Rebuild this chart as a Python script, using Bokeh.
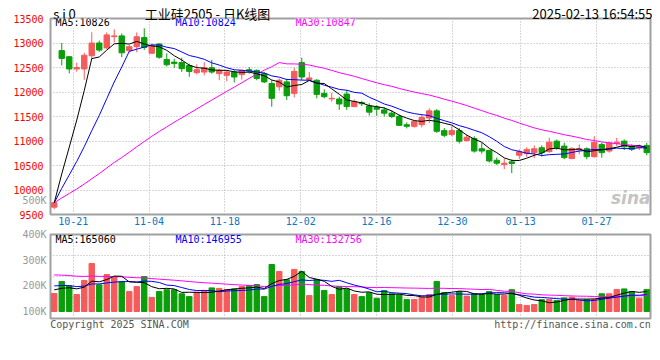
from bokeh.plotting import figure
from bokeh.layouts import column
from bokeh.models import Range1d, FixedTicker, Label, ColumnDataSource, LinearAxis
from bokeh.embed import file_html
from bokeh.resources import INLINE

# ---------------- data ----------------
tick_index = [3, 13, 23, 33, 43, 53, 62, 72]
tick_labels = ["10-21", "11-04", "11-18", "12-02", "12-16", "12-30", "01-13", "01-27"]

open_ = [9650, 12845, 12720, 12470, 12470, 12740, 13000, 12900, 13130, 13145,
         12845, 12925, 13110, 12790, 12980, 12663, 12610, 12600, 12540, 12395,
         12407, 12496, 12375, 12341, 12407, 12355, 12455, 12442, 12375, 12173,
         12105, 12206, 11972, 12600, 12254, 12240, 11972, 11860, 11857, 11958,
         11702, 11783, 11716, 11689, 11635, 11568, 11500, 11332, 11299, 11332,
         11468, 11615, 11212, 11131, 11212, 11010, 11050, 10842, 10809, 10607,
         10520, 10574, 10708, 10742, 10762, 10862, 10782, 10997, 10896, 10641,
         10815, 10842, 10681, 10930, 10795, 10950, 10997, 10896, 10862, 10910]
close_ = [9740, 12685, 12470, 12500, 12750, 13000, 12855, 13165, 13145, 12800,
          12925, 13127, 12910, 12946, 12710, 12556, 12580, 12476, 12420, 12455,
          12496, 12407, 12442, 12407, 12306, 12442, 12430, 12275, 12206, 11871,
          12240, 11924, 12421, 12306, 12287, 11952, 11904, 11871, 11756, 11702,
          11803, 11760, 11589, 11650, 11568, 11500, 11319, 11300, 11400, 11480,
          11615, 11198, 11117, 11212, 10996, 11077, 10795, 10795, 10593, 10547,
          10547, 10540, 10782, 10829, 10842, 10762, 10977, 10862, 10661, 10850,
          10842, 10681, 10977, 10762, 10964, 10977, 10883, 10830, 10883, 10762]
high_ = [9760, 13000, 12730, 12600, 12800, 13220, 13050, 13215, 13280, 13195,
         12960, 13215, 13300, 12990, 12990, 12790, 12680, 12700, 12580, 12563,
         12610, 12657, 12476, 12450, 12442, 12455, 12510, 12460, 12410, 12240,
         12275, 12274, 12496, 12700, 12408, 12260, 12053, 11986, 11904, 12039,
         11850, 11820, 11770, 11730, 11690, 11620, 11540, 11380, 11420, 11534,
         11668, 11650, 11266, 11299, 11266, 11130, 11097, 10964, 10820, 10662,
         10641, 10627, 10829, 10870, 10910, 10910, 11065, 11030, 10964, 10870,
         10930, 10870, 11097, 10964, 10977, 11065, 11030, 10930, 10930, 10964]
low_ = [9610, 12540, 12380, 12415, 12250, 12680, 12820, 12880, 13010, 12710,
        12810, 12810, 12860, 12780, 12680, 12520, 12490, 12410, 12310, 12360,
        12340, 12374, 12240, 12220, 12194, 12254, 12375, 12240, 12180, 11700,
        12025, 11837, 11890, 12240, 12250, 11870, 11870, 11803, 11635, 11635,
        11690, 11715, 11520, 11514, 11500, 11467, 11310, 11258, 11272, 11278,
        11366, 11165, 11077, 11097, 10950, 10985, 10762, 10742, 10560, 10506,
        10426, 10345, 10627, 10675, 10650, 10680, 10762, 10820, 10627, 10630,
        10728, 10627, 10661, 10661, 10762, 10896, 10815, 10795, 10815, 10708]
volume_k = [170, 217, 200, 166, 221, 287, 204, 244, 234, 217,
            178, 197, 236, 155, 178, 185, 185, 169, 158, 175,
            182, 192, 190, 185, 188, 197, 201, 205, 158, 283,
            256, 224, 264, 256, 162, 224, 182, 166, 197, 188,
            166, 158, 173, 151, 182, 169, 165, 147, 147, 156,
            166, 217, 174, 162, 178, 160, 169, 165, 178, 165,
            162, 185, 127, 123, 127, 146, 147, 143, 153, 156,
            143, 146, 147, 169, 169, 186, 188, 178, 152, 186]
# average volume before the first shown day, per MA window
vol_prior_k = {5: 188, 10: 203, 30: 245}

price_ticks = [9500, 10000, 10500, 11000, 11500, 12000, 12500, 13000, 13500]
vol_ticks_k = [100, 200, 300, 400]

title_code = "s i 0"
title_name = "工业硅2505 - 日K线图"
timestamp = "2025-02-13 16:54:55"
ma_price_text = ["MA5:10826", "MA10:10824", "MA30:10847"]
ma_vol_text = ["MA5:165060", "MA10:146955", "MA30:132756"]
stray_label = "500K"
footer_left = "Copyright 2025 SINA.COM"
footer_right = "http://finance.sina.com.cn"

# ---------------- derived ----------------
N = len(close_)
xs = list(range(N))
UP, DN = "#f65b5b", "#0b9e0b"
colors = [UP if c >= o else DN for o, c in zip(open_, close_)]


def moving_avg(vals, n, prior):
    pad = [prior] * (n - 1) + list(vals)
    return [sum(pad[i:i + n]) / n for i in range(len(vals))]


vol = [v * 1000 for v in volume_k]
src = ColumnDataSource(dict(
    x=xs, h=high_, l=low_,
    top=[max(a, b) for a, b in zip(open_, close_)],
    bot=[min(a, b) for a, b in zip(open_, close_)],
    color=colors, vol=vol,
    ma5=moving_avg(close_, 5, close_[0]),
    ma10=moving_avg(close_, 10, close_[0]),
    ma30=moving_avg(close_, 30, close_[0]),
    vma5=moving_avg(vol, 5, vol_prior_k[5] * 1000),
    vma10=moving_avg(vol, 10, vol_prior_k[10] * 1000),
    vma30=moving_avg(vol, 30, vol_prior_k[30] * 1000),
))

MONO = "DejaVu Sans Mono"
CJK = "Noto Sans CJK SC"
GRID = "#b0b0b0"
BORDER = "#a0a0a0"
FRAME_W = 600
FRAME_L = 50
SLOT = FRAME_W / N


def px_to_x(px):
    """page pixel column -> x data coordinate (layout helper for text placement)"""
    return (px - FRAME_L) / SLOT - 0.5


# the date grid of the source is laid out slightly wider than one candle slot per day
grid_step = 7.584 / SLOT
tick_pos = [px_to_x(72.7) + (k - tick_index[0]) * grid_step for k in tick_index]


def style_axis(ax, size="10px", font=MONO, color="#000000", standoff=4):
    ax.axis_line_color = None
    ax.major_tick_line_color = None
    ax.minor_tick_line_color = None
    ax.major_tick_out = 0
    ax.major_tick_in = 0
    ax.minor_tick_out = 0
    ax.minor_tick_in = 0
    ax.major_label_text_font = font
    ax.major_label_text_font_size = size
    ax.major_label_text_color = color
    ax.major_label_standoff = standoff


def style(p):
    p.outline_line_color = BORDER
    p.outline_line_width = 2
    for ax in p.axis:
        style_axis(ax)
    for g in (p.xgrid, p.ygrid):
        g.grid_line_color = GRID
        g.grid_line_dash = "1 2"
        g.grid_line_width = 1


# ---------------- price panel ----------------
p1 = figure(frame_width=FRAME_W, frame_height=196, x_range=Range1d(-0.5, N - 0.5),
            y_range=Range1d(9500, 13500), output_backend="svg", toolbar_location=None,
            min_border_left=FRAME_L, min_border_right=2, min_border_top=18, min_border_bottom=14)
price_axis = p1.yaxis[0]
style(p1)
price_axis.ticker = FixedTicker(ticks=price_ticks)
p1.ygrid.ticker = FixedTicker(ticks=price_ticks)
price_axis.major_label_text_color = "#ff0000"
p1.xaxis.ticker = FixedTicker(ticks=tick_pos)
p1.xaxis.major_label_overrides = {pos: lab for pos, lab in zip(tick_pos, tick_labels)}
p1.xaxis.major_label_text_color = "#0a78c2"
p1.xaxis.major_label_standoff = 2
p1.xgrid.ticker = FixedTicker(ticks=tick_pos)

# grey stray label: inner left axis; the red price scale sits outside it but its labels
# are pulled back to the same column with a negative standoff
stray_pos = 9786
stray_axis = LinearAxis(ticker=FixedTicker(ticks=[stray_pos]),
                        major_label_overrides={stray_pos: stray_label})
style_axis(stray_axis, color="#999999")
price_axis.major_label_standoff = -24
p1.left = [stray_axis, price_axis]

# header texts in a top axis
head_pos = [px_to_x(64), px_to_x(207), px_to_x(592)]
head_axis = LinearAxis(ticker=FixedTicker(ticks=head_pos),
                       major_label_overrides=dict(zip(head_pos, [title_code, title_name, timestamp])))
style_axis(head_axis, size="13px", font=CJK, standoff=-4)
p1.add_layout(head_axis, "above")

p1.segment(x0="x", y0="l", x1="x", y1="h", color="color", source=src, line_width=1)
p1.vbar(x="x", width=0.72, top="top", bottom="bot", fill_color="color",
        line_color="color", line_width=1, source=src)
p1.line("x", "ma30", source=src, color="#ff00ff", line_width=1)
p1.line("x", "ma10", source=src, color="#0000ff", line_width=1)
p1.line("x", "ma5", source=src, color="#000000", line_width=1)

for txt, xo, col in zip(ma_price_text, [5, 125, 245], ["#000000", "#0000ff", "#ff00ff"]):
    p1.add_layout(Label(x=xo, y=192, x_units="screen", y_units="screen", text=txt,
                        text_font=MONO, text_font_size="10px", text_baseline="middle",
                        text_color=col, background_fill_color="white"))
p1.add_layout(Label(x=600, y=7, x_units="screen", y_units="screen", text="sina",
                    text_font="DejaVu Sans", text_font_style="bold italic",
                    text_font_size="17px", text_align="right", text_baseline="bottom",
                    text_color="#c4c4c4"))

# ---------------- volume panel ----------------
p2 = figure(frame_width=FRAME_W, frame_height=84, x_range=p1.x_range,
            y_range=Range1d(72700, 400000), output_backend="svg", toolbar_location=None,
            min_border_left=FRAME_L, min_border_right=2, min_border_top=6, min_border_bottom=14)
style(p2)
p2.yaxis.ticker = FixedTicker(ticks=[v * 1000 for v in vol_ticks_k])
p2.yaxis.major_label_overrides = {v * 1000: f"{v}K" for v in vol_ticks_k}
p2.yaxis.major_label_text_color = "#999999"
foot_pos = [px_to_x(119), px_to_x(572)]
p2.xaxis.ticker = FixedTicker(ticks=foot_pos)
p2.xaxis.major_label_overrides = {foot_pos[0]: footer_left, foot_pos[1]: footer_right}
p2.xaxis.major_label_text_color = "#555555"
p2.xaxis.major_label_standoff = 0
p2.xgrid.ticker = FixedTicker(ticks=tick_pos)
p2.ygrid.ticker = FixedTicker(ticks=[72700 + (400000 - 72700) * k / 4 for k in (1, 2, 3)])

p2.vbar(x="x", width=0.72, top="vol", bottom=100000, fill_color="color",
        line_color="color", line_width=1, source=src)
p2.line("x", "vma30", source=src, color="#ff00ff", line_width=1)
p2.line("x", "vma10", source=src, color="#0000ff", line_width=1)
p2.line("x", "vma5", source=src, color="#000000", line_width=1)

for txt, xo, col in zip(ma_vol_text, [5, 125, 245], ["#000000", "#0000ff", "#ff00ff"]):
    p2.add_layout(Label(x=xo, y=79, x_units="screen", y_units="screen", text=txt,
                        text_font=MONO, text_font_size="10px", text_baseline="middle",
                        text_color=col))

layout = column(p1, p2, spacing=0)
open("out.html", "w").write(file_html(layout, INLINE))
